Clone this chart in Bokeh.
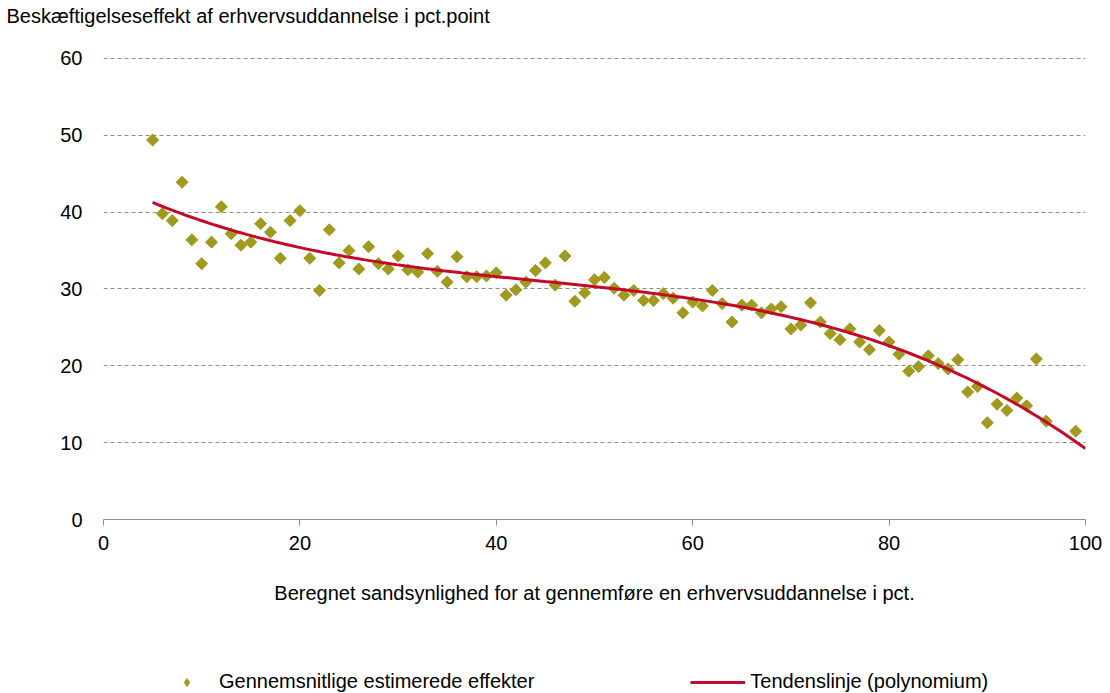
import numpy as np
from bokeh.plotting import figure
from bokeh.layouts import column
from bokeh.models import Range1d, Legend, LegendItem, Title, FixedTicker
from bokeh.embed import file_html
from bokeh.resources import INLINE

# Data
prob_pct = [5, 6, 7, 8, 9, 10, 11, 12, 13, 14, 15, 16, 17, 18, 19, 20,
            21, 22, 23, 24, 25, 26, 27, 28, 29, 30, 31, 32, 33, 34, 35, 36,
            37, 38, 39, 40, 41, 42, 43, 44, 45, 46, 47, 48, 49, 50, 51, 52,
            53, 54, 55, 56, 57, 58, 59, 60, 61, 62, 63, 64, 65, 66, 67, 68,
            69, 70, 71, 72, 73, 74, 75, 76, 77, 78, 79, 80, 81, 82, 83, 84,
            85, 86, 87, 88, 89, 90, 91, 92, 93, 94, 95, 96, 99]
effect = [49.4, 39.8, 38.9, 43.9, 36.4, 33.3, 36.1, 40.7, 37.2, 35.7, 36.1, 38.5, 37.4, 34.0, 38.9, 40.2,
          34.0, 29.8, 37.7, 33.4, 35.0, 32.6, 35.5, 33.3, 32.6, 34.3, 32.5, 32.2, 34.6, 32.3, 30.9, 34.2,
          31.6, 31.6, 31.7, 32.1, 29.2, 29.9, 30.9, 32.4, 33.4, 30.5, 34.3, 28.4, 29.5, 31.2, 31.5, 30.1,
          29.2, 29.8, 28.5, 28.5, 29.4, 28.8, 26.9, 28.3, 27.8, 29.8, 28.1, 25.7, 27.9, 27.9, 26.9, 27.4,
          27.7, 24.8, 25.3, 28.2, 25.7, 24.2, 23.4, 24.8, 23.1, 22.1, 24.6, 23.1, 21.5, 19.3, 19.9, 21.3,
          20.3, 19.6, 20.8, 16.6, 17.3, 12.6, 15.0, 14.2, 15.8, 14.8, 20.9, 12.8, 11.5]
# Trend line values (polynomial trend)
trend_read_x = [5, 15, 25, 40, 50, 60, 70, 75, 85, 90, 95, 100]
trend_read_y = [41.2, 37.0, 34.2, 31.7, 30.3, 28.5, 26.2, 24.8, 20.2, 17.1, 13.7, 9.0]
y_ticks = [0, 10, 20, 30, 40, 50, 60]
x_ticks = [0, 20, 40, 60, 80, 100]
series_labels = ["Gennemsnitlige estimerede effekter", "Tendenslinje (polynomium)"]

# Third-degree polynomial through the read trend values
coef = np.polyfit(trend_read_x, trend_read_y, 3)
trend_x = np.linspace(5, 100, 200)
trend_y = np.polyval(coef, trend_x)

FONT = "Liberation Sans"
OLIVE = "#A09A1E"
RED = "#C20A2A"

# ---------------- main chart ----------------
p = figure(width=1110, height=640, output_backend="svg", toolbar_location=None,
           x_range=Range1d(0, 100), y_range=Range1d(0, 60.13),
           min_border_left=103, min_border_right=25, min_border_top=57, min_border_bottom=121)
p.outline_line_color = None
p.background_fill_color = "white"

p.scatter(prob_pct, effect, marker="square", angle=np.pi / 4, size=8.5,
          fill_color=OLIVE, line_color=OLIVE)
p.line(trend_x, trend_y, line_color=RED, line_width=3)

p.xgrid.grid_line_color = None
p.ygrid.grid_line_color = "#8C8C8C"
p.ygrid.grid_line_dash = "4 3"
p.ygrid.grid_line_width = 1
p.ygrid.ticker = FixedTicker(ticks=y_ticks[1:])

p.yaxis.ticker = FixedTicker(ticks=y_ticks)
p.yaxis.axis_line_color = None
p.yaxis.major_tick_line_color = None
p.yaxis.minor_tick_line_color = None
p.yaxis.major_label_text_font = FONT
p.yaxis.major_label_text_font_size = "20px"
p.yaxis.major_label_text_color = "black"
p.yaxis.major_label_standoff = 15

p.xaxis.ticker = FixedTicker(ticks=x_ticks)
p.xaxis.axis_line_color = "#8C8C8C"
p.xaxis.major_tick_line_color = "#8C8C8C"
p.xaxis.major_tick_out = 6
p.xaxis.major_tick_in = 0
p.xaxis.minor_tick_line_color = None
p.xaxis.major_label_text_font = FONT
p.xaxis.major_label_text_font_size = "20px"
p.xaxis.major_label_text_color = "black"
p.xaxis.major_label_standoff = 10
p.xaxis.axis_label = "Beregnet sandsynlighed for at gennemføre en erhvervsuddannelse i pct."
p.xaxis.axis_label_text_font = FONT
p.xaxis.axis_label_text_font_size = "20px"
p.xaxis.axis_label_text_font_style = "normal"
p.xaxis.axis_label_text_color = "black"
p.xaxis.axis_label_standoff = 29

# Chart title (outermost "above" panel), pushed up by a blank spacer title
p.title.text = "Beskæftigelseseffekt af erhvervsuddannelse i pct.point"
p.title.align = "left"
p.title.offset = -97
p.title.standoff = 0
p.title.text_font = FONT
p.title.text_font_size = "20px"
p.title.text_font_style = "normal"
p.title.text_color = "black"
p.add_layout(Title(text=" ", text_font_size="10px", standoff=18), "above")

# ---------------- legend strip ----------------
leg = figure(width=1110, height=53, output_backend="svg", toolbar_location=None,
             x_axis_location=None, y_axis_location=None,
             min_border_left=0, min_border_right=0, min_border_top=0, min_border_bottom=0)
leg.outline_line_color = None
leg.grid.grid_line_color = None
# hidden proxies of the two series, used only to draw the legend keys
leg_pts = leg.scatter(prob_pct, effect, marker="diamond", size=13,
                      fill_color=OLIVE, line_color=OLIVE, visible=False)
leg_line = leg.line(trend_x, trend_y, line_color=RED, line_width=3, visible=False)

legend = Legend(items=[LegendItem(label=series_labels[0], renderers=[leg_pts]),
                       LegendItem(label=series_labels[1], renderers=[leg_line])],
                orientation="horizontal", location=(56, 0), spacing=156,
                glyph_width=55, glyph_height=20, label_standoff=5, padding=0, margin=0,
                border_line_color=None, background_fill_alpha=0, inactive_fill_alpha=0,
                label_text_font=FONT, label_text_font_size="20px", label_text_color="black")
leg.add_layout(legend, "center")

layout = column(p, leg, spacing=0)
open("out.html", "w").write(file_html(layout, INLINE))
